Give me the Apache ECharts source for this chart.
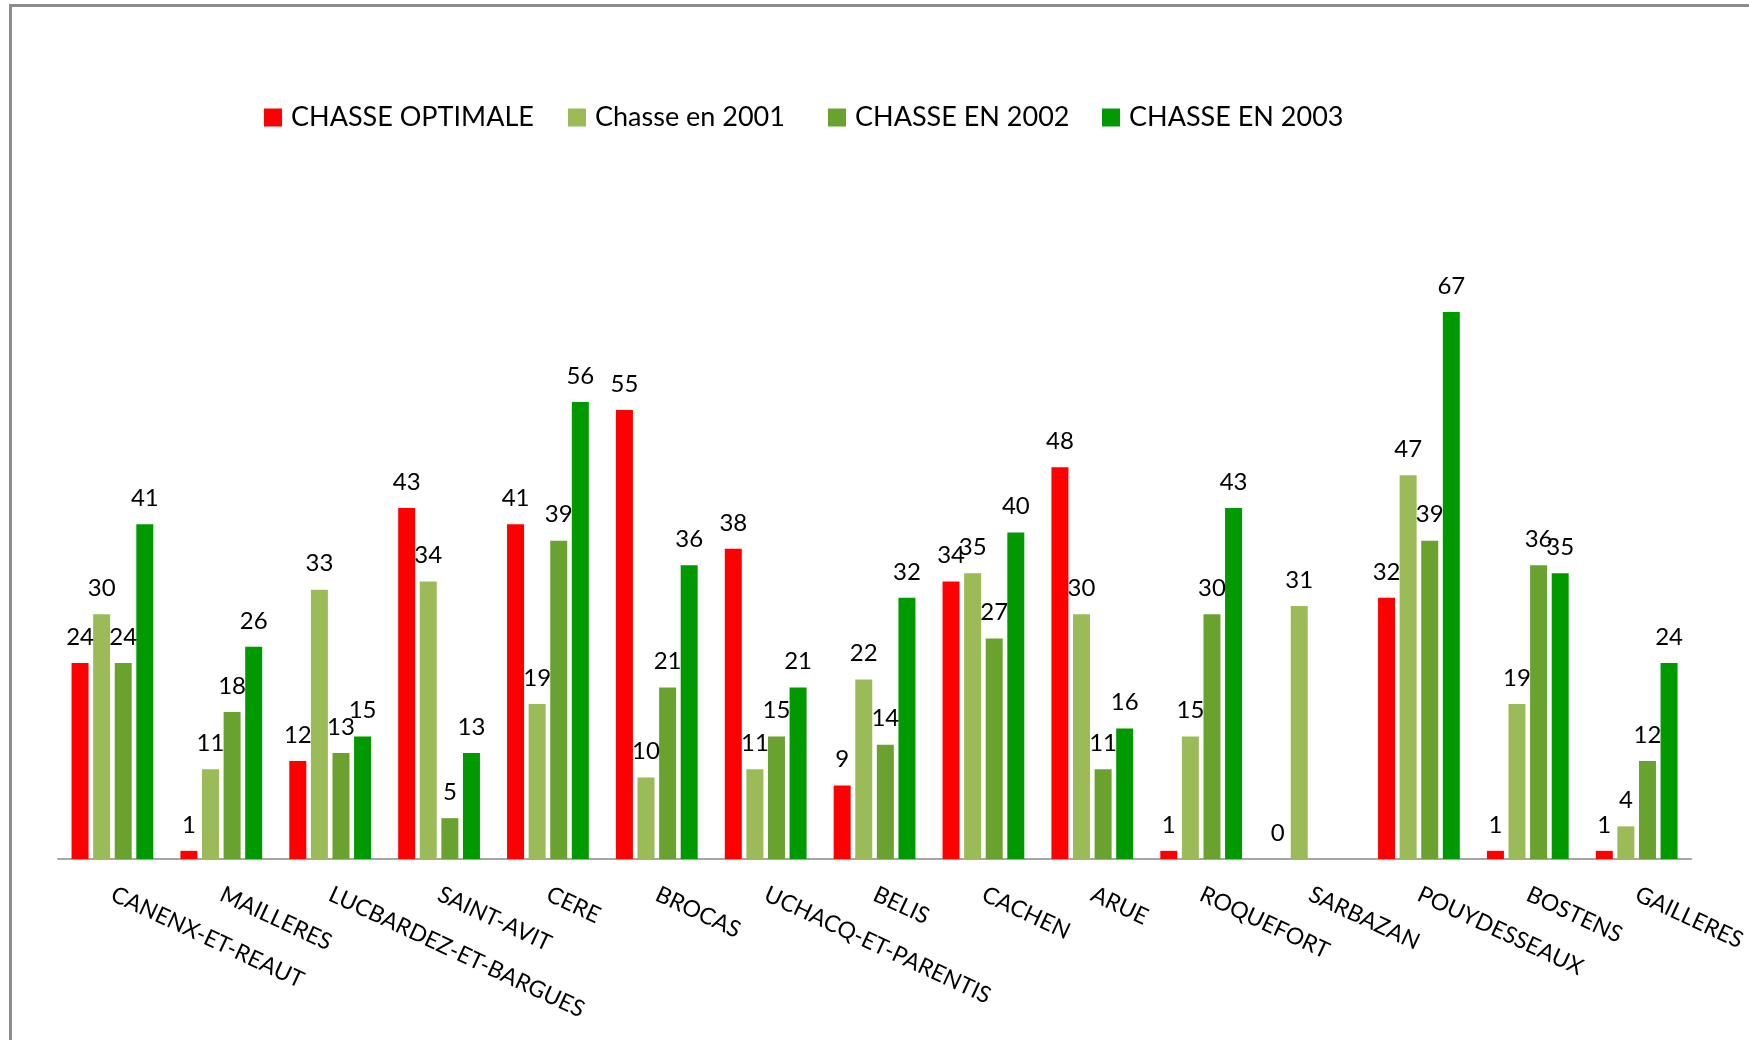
<!DOCTYPE html>
<html>
<head>
<meta charset="utf-8">
<script src="https://cdn.jsdelivr.net/npm/echarts@6/dist/echarts.min.js"></script>
<style>
html,body{margin:0;padding:0;background:#fff;}
#chart{width:1749px;height:1040px;}
</style>
</head>
<body>
<div id="chart"></div>
<script>
const categories = ['CANENX-ET-REAUT','MAILLERES','LUCBARDEZ-ET-BARGUES','SAINT-AVIT','CERE','BROCAS','UCHACQ-ET-PARENTIS','BELIS','CACHEN','ARUE','ROQUEFORT','SARBAZAN','POUYDESSEAUX','BOSTENS','GAILLERES'];
const seriesNames = ['CHASSE OPTIMALE','Chasse en 2001','CHASSE EN 2002','CHASSE EN 2003'];
const chasseOptimale = [24, 1, 12, 43, 41, 55, 38, 9, 34, 48, 1, 0, 32, 1, 1];
const chasse2001 = [30, 11, 33, 34, 19, 10, 11, 22, 35, 30, 15, 31, 47, 19, 4];
const chasse2002 = [24, 18, 13, 5, 39, 21, 15, 14, 27, 11, 30, null, 39, 36, 12];
const chasse2003 = [41, 26, 15, 13, 56, 36, 21, 32, 40, 16, 43, null, 67, 35, 24];

const colors = ['#FF0000', '#9BBB59', '#6AA22F', '#009900'];
const seriesData = [chasseOptimale, chasse2001, chasse2002, chasse2003];
const legendLeft = [264, 568, 828, 1102];
const FONT = 'Lato';

const chart = echarts.init(document.getElementById('chart'), null, {renderer: 'canvas'});

const legends = seriesNames.map((n, i) => ({
  data: [n],
  left: legendLeft[i],
  top: 104,
  padding: 0,
  orient: 'horizontal',
  icon: 'rect',
  itemWidth: 18,
  itemHeight: 18,
  selectedMode: false,
  textStyle: {fontFamily: FONT, fontSize: 27, color: '#000', lineHeight: 27, padding: [0, 0, 0, 4]}
}));

const series = seriesNames.map((n, i) => ({
  name: n,
  type: 'bar',
  data: seriesData[i],
  barWidth: 17,
  barGap: '27%',
  itemStyle: {color: colors[i]},
  label: {
    show: true,
    position: 'top',
    distance: 14,
    fontFamily: FONT,
    fontSize: 24,
    color: '#000'
  }
}));

chart.setOption({
  animation: false,
  color: colors,
  legend: legends,
  grid: {left: 58, right: 53, top: 206, bottom: 181, containLabel: false},
  xAxis: {
    type: 'category',
    data: categories,
    axisTick: {show: false},
    axisLine: {lineStyle: {color: '#A6A6A6', width: 2}},
    axisLabel: {
      interval: 0,
      rotate: -25,
      margin: 34,
      fontFamily: FONT,
      fontSize: 23,
      color: '#000'
    }
  },
  yAxis: {
    type: 'value',
    min: 0,
    max: 80,
    interval: 10,
    show: false,
    splitLine: {show: false}
  },
  graphic: [{
    type: 'rect',
    shape: {x: 10.5, y: 5.5, width: 1800, height: 1100},
    style: {fill: 'none', stroke: '#8C8C8C', lineWidth: 3},
    silent: true
  }],
  series: series
});
</script>
</body>
</html>
